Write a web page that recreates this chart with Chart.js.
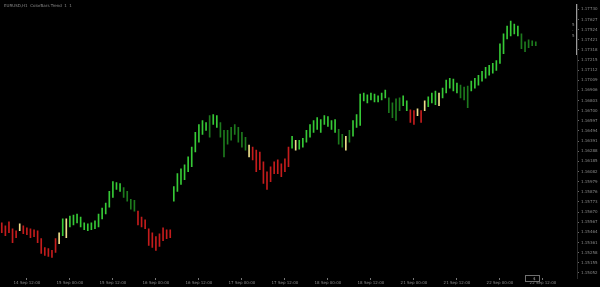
<!DOCTYPE html>
<html>
<head>
<meta charset="utf-8">
<script src="https://cdn.jsdelivr.net/npm/chart.js@4"></script>
<style>
  html, body { margin: 0; padding: 0; background: #000; overflow: hidden; }
  canvas { display: block; }
</style>
</head>
<body>
<canvas id="chart" width="600" height="287"></canvas>
<script>
// Bar highs / lows (H1 bars)
const highs = [
  1.1556,1.1553,1.1557,1.1550,1.1548,1.1555,1.1553,1.1551,1.1550,1.1549,
  1.1548,1.1540,1.1531,1.1530,1.1528,1.1540,1.1546,1.1560,1.1560,1.1563,
  1.1564,1.1565,1.1562,1.1556,1.1555,1.1556,1.1558,1.1565,1.1571,1.1576,
  1.1588,1.1598,1.1597,1.1596,1.1592,1.1588,1.1580,1.1579,1.1568,1.1562,
  1.1559,1.1550,1.1546,1.1542,1.1545,1.1551,1.1549,1.1549,1.1593,1.1606,
  1.1611,1.1615,1.1623,1.1633,1.1648,1.1656,1.1660,1.1658,1.1665,1.1666,
  1.1665,1.1658,1.1650,1.1650,1.1653,1.1656,1.1653,1.1648,1.1643,1.1635,
  1.1633,1.1630,1.1628,1.1618,1.1608,1.1613,1.1618,1.1620,1.1616,1.1621,
  1.1633,1.1644,1.1640,1.1640,1.1642,1.1650,1.1656,1.1660,1.1663,1.1661,
  1.1665,1.1664,1.1660,1.1661,1.1651,1.1646,1.1644,1.1650,1.1660,1.1666,
  1.1687,1.1688,1.1686,1.1688,1.1687,1.1685,1.1688,1.1691,1.1683,1.1678,
  1.1682,1.1683,1.1685,1.1680,1.1671,1.1670,1.1672,1.1670,1.1680,1.1684,
  1.1688,1.1690,1.1688,1.1693,1.1701,1.1703,1.1702,1.1698,1.1696,1.1694,
  1.1695,1.1700,1.1703,1.1706,1.1710,1.1714,1.1716,1.1718,1.1721,1.1738,
  1.1748,1.1756,1.1761,1.1758,1.1756,1.1748,1.1740,1.1742,1.1741,1.1740
];
const lows = [
  1.1546,1.1543,1.1546,1.1536,1.1541,1.1548,1.1545,1.1544,1.1541,1.1542,
  1.1536,1.1525,1.1523,1.1522,1.1521,1.1526,1.1535,1.1543,1.1541,1.1552,
  1.1554,1.1556,1.1552,1.1549,1.1548,1.1549,1.1550,1.1552,1.1560,1.1565,
  1.1572,1.1582,1.1590,1.1588,1.1582,1.1578,1.1570,1.1568,1.1554,1.1552,
  1.1550,1.1533,1.1531,1.1528,1.1532,1.1538,1.1540,1.1541,1.1578,1.1588,
  1.1595,1.1600,1.1608,1.1613,1.1628,1.1638,1.1646,1.1650,1.1643,1.1656,
  1.1653,1.1643,1.1623,1.1636,1.1640,1.1646,1.1638,1.1633,1.1630,1.1623,
  1.1620,1.1608,1.1610,1.1596,1.1590,1.1598,1.1606,1.1606,1.1603,1.1608,
  1.1613,1.1632,1.1630,1.1631,1.1633,1.1638,1.1643,1.1648,1.1651,1.1648,
  1.1656,1.1654,1.1651,1.1648,1.1636,1.1633,1.1630,1.1638,1.1644,1.1653,
  1.1655,1.1680,1.1678,1.1681,1.1679,1.1679,1.1681,1.1683,1.1668,1.1663,
  1.1660,1.1670,1.1675,1.1670,1.1658,1.1656,1.1665,1.1658,1.1670,1.1674,
  1.1678,1.1676,1.1675,1.1683,1.1688,1.1693,1.1690,1.1688,1.1683,1.1681,
  1.1673,1.1690,1.1693,1.1696,1.1700,1.1703,1.1706,1.1708,1.1711,1.1718,
  1.1728,1.1743,1.1746,1.1748,1.1746,1.1733,1.1730,1.1734,1.1736,1.1736
];
// Trend state per bar: G up, D weak up, R down, Y neutral
const trendCodes = (
  'RRRRR Y RRRRRRRRRR Y G Y GGGGGGGGGGGGGGG DDDD RRRRRRRRRR GGGGGGGGGG D GG DDDDDDDD Y ' +
  'RRRRRRRRRRR G Y GGGGGGGGGGG DD Y D GGGGGGGGGG DDDD GG RR Y R Y GGG Y GGGGG DDD ' +
  'GGGGGGGGGGGGGG DDDDD'
).replace(/ /g, '').split('');

// Price scale labels (right side)
const priceTicks = [
  1.17730,1.17627,1.17524,1.17421,1.17318,1.17215,1.17112,1.17009,1.16906,
  1.16803,1.16700,1.16597,1.16494,1.16391,1.16288,1.16185,1.16082,1.15979,
  1.15876,1.15773,1.15670,1.15567,1.15464,1.15361,1.15258,1.15155,1.15052
];
// Time scale labels, one every 12 bars starting at bar 7
const timeLabels = [
  '14 Sep 12:00','15 Sep 00:00','15 Sep 12:00','16 Sep 00:00','16 Sep 12:00',
  '17 Sep 00:00','17 Sep 12:00','18 Sep 00:00','18 Sep 12:00','21 Sep 00:00',
  '21 Sep 12:00','22 Sep 00:00','22 Sep 12:00'
];

const palette = { G: '#36c936', D: '#1d7a1d', R: '#c41c1c', Y: '#eee08c' };
const SLOTS = 161;
const slotLabels = Array.from({ length: SLOTS }, (_, i) =>
  i >= 7 && (i - 7) % 12 === 0 ? (timeLabels[(i - 7) / 12] || '') : '');

const overlay = {
  id: 'overlay',
  beforeDraw(chart) {
    const c = chart.ctx;
    c.save();
    c.fillStyle = '#000';
    c.fillRect(0, 0, chart.width, chart.height);
    c.restore();
  },
  afterDraw(chart) {
    const c = chart.ctx;
    c.save();
    c.fillStyle = '#8a8a8a';
    c.font = '4px "DejaVu Sans"';
    c.textBaseline = 'middle';
    c.fillText('EURUSD,H1  ColorBars Trend  1  1', 4, 6);
    // scale fix marker
    c.strokeStyle = '#9a9a9a';
    c.lineWidth = 1;
    c.beginPath();
    c.moveTo(576.5, 4);
    c.lineTo(576.5, 55);
    c.stroke();
    c.fillText('5', 572, 25);
    c.fillText('-', 572, 31);
    c.fillText('5', 572, 36);
    // one-click trading box
    c.strokeStyle = '#707070';
    c.strokeRect(525.5, 275.5, 14, 6);
    c.fillStyle = '#b0b0b0';
    c.fillText('$', 533, 278.5);
    c.restore();
  }
};

new Chart(document.getElementById('chart'), {
  type: 'bar',
  data: {
    labels: slotLabels,
    datasets: [{
      data: highs.map((h, i) => [lows[i], h]),
      backgroundColor: trendCodes.map(k => palette[k]),
      barThickness: 1,
      borderWidth: 0
    }]
  },
  options: {
    responsive: false,
    devicePixelRatio: 1,
    animation: false,
    layout: { padding: 0 },
    plugins: { legend: { display: false }, tooltip: { enabled: false } },
    scales: {
      x: {
        offset: true,
        border: { display: false },
        grid: {
          offset: false,
          drawOnChartArea: false,
          tickLength: 2,
          color: ctx => (slotLabels[ctx.index] ? '#777' : 'rgba(0,0,0,0)')
        },
        ticks: {
          autoSkip: false,
          maxRotation: 0,
          padding: 1,
          color: '#8a8a8a',
          font: { size: 4, family: 'DejaVu Sans' },
          callback(v) { return slotLabels[v]; }
        },
        afterFit(scale) { scale.height = 9; }
      },
      y: {
        position: 'right',
        min: 1.1500,
        max: 1.1778,
        border: { color: '#2a2a2a' },
        grid: { drawOnChartArea: false, tickLength: 2, color: '#666' },
        afterBuildTicks(scale) { scale.ticks = priceTicks.map(v => ({ value: v })); },
        ticks: {
          padding: 2,
          color: '#8a8a8a',
          font: { size: 4, family: 'DejaVu Sans' },
          callback(v) { return v.toFixed(5); }
        },
        afterFit(scale) { scale.width = 23; }
      }
    }
  },
  plugins: [overlay]
});
</script>
</body>
</html>
